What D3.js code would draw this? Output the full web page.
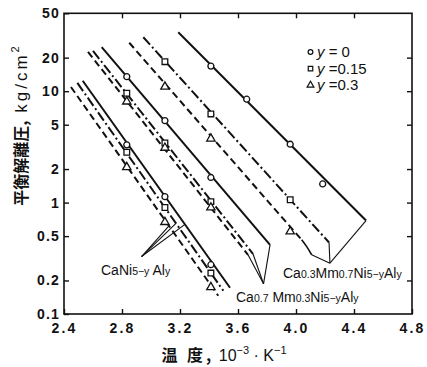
<!DOCTYPE html>
<html>
<head>
<meta charset="utf-8">
<script src="https://cdn.jsdelivr.net/npm/d3@7/dist/d3.min.js"></script>
<style>
  body { margin: 0; background: #fff; }
  svg { display: block; }
  text { fill: #111; }
</style>
</head>
<body>
<svg id="chart" width="427" height="367"></svg>
<script>
// Axis ticks
const xTicks = [2.4, 2.8, 3.2, 3.6, 4.0, 4.4, 4.8];
const xTickLabels = ["2.4", "2.8", "3.2", "3.6", "4.0", "4.4", "4.8"];
const yTicks = [50, 20, 10, 5, 2, 1, 0.5, 0.2, 0.1];
const yTickLabels = ["50", "20", "10", "5", "2", "1", "0.5", "0.2", "0.1"];

// Al content y of each series (legend)
const yContents = ["0", "0.15", "0.3"];

// Measured equilibrium dissociation pressures: [1000/T (K^-1), kg/cm2]
const caNi_y0   = [[2.833, 3.30], [3.096, 1.13], [3.413, 0.277]];
const caNi_y15  = [[2.833, 2.83], [3.096, 0.903], [3.413, 0.233]];
const caNi_y30  = [[2.833, 2.08], [3.096, 0.668], [3.413, 0.174]];

const ca7_y0    = [[2.833, 13.5], [3.096, 5.44], [3.413, 1.68]];
const ca7_y15   = [[2.833, 9.58], [3.096, 3.43], [3.413, 1.02]];
const ca7_y30   = [[2.833, 8.06], [3.096, 3.10], [3.413, 0.903]];

const ca3_y0    = [[3.413, 16.8], [3.66, 8.47], [3.96, 3.34], [4.184, 1.47]];
const ca3_y15   = [[3.096, 18.4], [3.413, 6.25], [3.96, 1.06]];
const ca3_y30   = [[3.096, 10.98], [3.413, 3.75], [3.96, 0.55]];

// Van't Hoff lines drawn for each series: start and end points
const caNi_line0  = [[2.529, 12.4], [3.545, 0.172]];
const caNi_line15 = [[2.492, 11.86], [3.499, 0.1616]];
const caNi_line30 = [[2.448, 10.9], [3.464, 0.1458]];

const ca7_line0   = [[2.660, 24.9], [3.821, 0.418]];
const ca7_line15  = [[2.600, 22.96], [3.703, 0.347]];
const ca7_line30  = [[2.5655, 22.5], [3.669, 0.34]];

const ca3_line0   = [[3.188, 33.8], [4.483, 0.69]];
const ca3_line15  = [[2.947, 30.5], [4.228, 0.438]];
const ca3_line30  = [[2.850, 27.2], [4.039, 0.463]];

// Leader lines for the alloy labels
const caNi_hub = [2.935, 0.328];
const caNi_anchorsX = [3.124, 3.172, 3.234];
const ca7_hub = [3.776, 0.1867];
const ca3_hub = [4.234, 0.286];
const ca3_bend = [[4.039, 0.463], [4.075, 0.40], [4.108, 0.34]];

const svg = d3.select("#chart");
const x = d3.scaleLinear().domain([2.4, 4.8]).range([64, 412]);
const y = d3.scaleLog().domain([0.1, 50]).range([314, 13.3]);

const FONT = "'Liberation Sans', Arial, sans-serif";
const CJK = "'Noto Sans CJK JP', 'Noto Sans CJK SC', sans-serif";

// Frame
svg.append("rect")
  .attr("x", x(2.4)).attr("y", y(50))
  .attr("width", x(4.8) - x(2.4)).attr("height", y(0.1) - y(50))
  .attr("fill", "none").attr("stroke", "#111").attr("stroke-width", 1.6);

function styleAxis(g) {
  g.select(".domain").remove();
  g.selectAll(".tick line").attr("stroke", "#111").attr("stroke-width", 1.4);
}

// Left axis with labels
svg.append("g").attr("transform", `translate(${x(2.4)},0)`)
  .call(d3.axisLeft(y).tickValues(yTicks).tickSize(-5).tickPadding(4)
    .tickFormat((d, i) => yTickLabels[i]))
  .call(styleAxis)
  .call(g => g.selectAll("text")
    .attr("font-family", FONT).attr("font-size", 14).attr("font-weight", "bold")
    .attr("letter-spacing", 1.2).attr("fill", "#111"));

// Right axis ticks
svg.append("g").attr("transform", `translate(${x(4.8)},0)`)
  .call(d3.axisRight(y).tickValues(yTicks.slice(1, -1)).tickSize(-5).tickFormat(""))
  .call(styleAxis);

// Bottom axis with labels
svg.append("g").attr("transform", `translate(0,${y(0.1)})`)
  .call(d3.axisBottom(x).tickValues(xTicks).tickSize(-5).tickPadding(9)
    .tickFormat((d, i) => xTickLabels[i]))
  .call(styleAxis)
  .call(g => g.selectAll("text")
    .attr("font-family", FONT).attr("font-size", 14).attr("font-weight", "bold")
    .attr("letter-spacing", 2.2).attr("fill", "#111"));

// Top axis ticks
svg.append("g").attr("transform", `translate(0,${y(50)})`)
  .call(d3.axisTop(x).tickValues(xTicks.slice(1, -1)).tickSize(-5).tickFormat(""))
  .call(styleAxis);

// Axis titles
const yTitle = svg.append("text")
  .attr("transform", `translate(27,126) rotate(-90)`)
  .attr("text-anchor", "middle");
yTitle.append("tspan").attr("font-family", CJK).attr("font-size", 16).attr("font-weight", "bold")
  .text("平衡解離圧,");
yTitle.append("tspan").attr("font-family", FONT).attr("font-size", 17)
  .attr("letter-spacing", 3).text(" kg/cm");
yTitle.append("tspan").attr("font-family", FONT).attr("font-size", 11)
  .attr("dy", -8).text("2");

const xTitle = svg.append("text")
  .attr("x", 224).attr("y", 361).attr("text-anchor", "middle");
xTitle.append("tspan").attr("font-family", CJK).attr("font-size", 16).attr("font-weight", "bold")
  .attr("letter-spacing", 3).text("温 度,");
xTitle.append("tspan").attr("font-family", FONT).attr("font-size", 16)
  .text("  10");
xTitle.append("tspan").attr("font-family", FONT).attr("font-size", 11)
  .attr("dy", -7).text("−3");
xTitle.append("tspan").attr("font-family", FONT).attr("font-size", 16)
  .attr("dy", 7).text(" · K");
xTitle.append("tspan").attr("font-family", FONT).attr("font-size", 11)
  .attr("dy", -7).text("−1");

// Series lines
const dashes = ["none", "10,3,2,3", "7,4"];
const line = d3.line().x(d => x(d[0])).y(d => y(d[1]));
const lineSets = [
  [caNi_line0, caNi_line15, caNi_line30],
  [ca7_line0, ca7_line15, ca7_line30],
  [ca3_line0, ca3_line15, ca3_line30]
];
lineSets.forEach(set => set.forEach((pts, i) => {
  svg.append("path").attr("d", line(pts))
    .attr("fill", "none").attr("stroke", "#111").attr("stroke-width", 2)
    .attr("stroke-dasharray", dashes[i]);
}));

// Leader lines
function onLine(pts, xv) {
  const [a, b] = pts;
  const t = (xv - a[0]) / (b[0] - a[0]);
  return [xv, Math.pow(10, Math.log10(a[1]) + t * (Math.log10(b[1]) - Math.log10(a[1])))];
}
const leaders = [];
[caNi_line30, caNi_line15, caNi_line0].forEach((pts, i) =>
  leaders.push([onLine(pts, caNi_anchorsX[i]), caNi_hub]));
[ca7_line30, ca7_line15, ca7_line0].forEach(pts => leaders.push([pts[1], ca7_hub]));
[ca3_line15, ca3_line0].forEach(pts => leaders.push([pts[1], ca3_hub]));
leaders.push([ca3_bend[2], ca3_hub]);
leaders.forEach(pts => svg.append("path").attr("d", line(pts))
  .attr("fill", "none").attr("stroke", "#111").attr("stroke-width", 1.1));
svg.append("path").attr("d", d3.line().curve(d3.curveNatural)
    .x(d => x(d[0])).y(d => y(d[1]))(ca3_bend))
  .attr("fill", "none").attr("stroke", "#111").attr("stroke-width", 1.6);

// Markers
const markerTypes = [d3.symbolCircle, d3.symbolSquare, d3.symbolTriangle];
const markerSizes = [28, 32, 30];
function drawMarkers(data, k) {
  svg.append("g").selectAll("path").data(data).join("path")
    .attr("transform", d => `translate(${x(d[0])},${y(d[1])})`)
    .attr("d", d3.symbol(markerTypes[k], markerSizes[k]))
    .attr("fill", "#fff").attr("stroke", "#111").attr("stroke-width", 1.3);
}
[[caNi_y0, caNi_y15, caNi_y30], [ca7_y0, ca7_y15, ca7_y30], [ca3_y0, ca3_y15, ca3_y30]]
  .forEach(set => set.forEach((d, k) => drawMarkers(d, k)));

// Legend
const legendSizes = [18, 20, 20];
yContents.forEach((v, k) => {
  const ly = 52 + k * 16.6;
  svg.append("path").attr("transform", `translate(310.5,${ly})`)
    .attr("d", d3.symbol(markerTypes[k], legendSizes[k]))
    .attr("fill", "#fff").attr("stroke", "#111").attr("stroke-width", 1.2);
  const t = svg.append("text").attr("x", 317).attr("y", ly + 5)
    .attr("font-family", FONT).attr("font-size", 15);
  t.append("tspan").attr("font-style", "italic").text("y");
  t.append("tspan").text(v === "0" ? " = 0" : " =" + v);
});

// Alloy labels with subscripts
function alloyLabel(px, py, parts) {
  const t = svg.append("text").attr("x", px).attr("y", py)
    .attr("font-family", FONT);
  parts.forEach(([s, sub]) => {
    t.append("tspan").attr("font-size", sub ? 10.5 : 14).text(s);
  });
}
alloyLabel(101, 275, [["CaNi", false], ["5−y", true], [" Al", false], ["y", true]]);
alloyLabel(236, 302, [["Ca", false], ["0.7", true], [" Mm", false], ["0.3", true], ["Ni", false], ["5−y", true], ["Al", false], ["y", true]]);
alloyLabel(283, 278, [["Ca", false], ["0.3", true], ["Mm", false], ["0.7", true], ["Ni", false], ["5−y", true], ["Al", false], ["y", true]]);
</script>
</body>
</html>
